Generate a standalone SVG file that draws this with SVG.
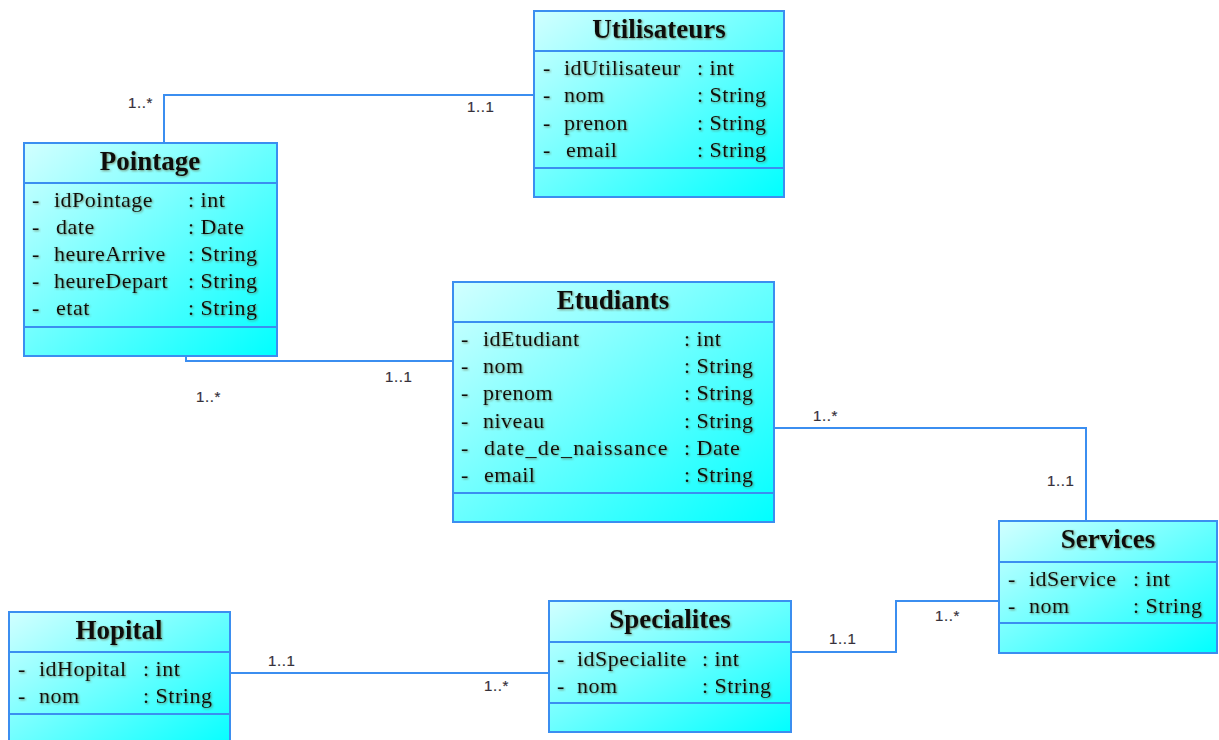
<svg xmlns="http://www.w3.org/2000/svg" width="1219" height="740" viewBox="0 0 1219 740">
  <defs>
    <linearGradient id="classFill" x1="0" y1="0" x2="1" y2="1">
      <stop offset="0" stop-color="#d2ffff"/>
      <stop offset="1" stop-color="#00ffff"/>
    </linearGradient>
    <filter id="soft" x="-5%" y="-20%" width="110%" height="140%">
      <feDropShadow dx="1" dy="1" stdDeviation="0.8" flood-color="#5a5a30" flood-opacity="0.65"/>
    </filter>
    <style>
      .box { fill: url(#classFill); stroke: #3b8ef0; stroke-width: 2; }
      .sep { stroke: #3b8ef0; stroke-width: 2; }
      text.title { font-family: "Liberation Serif", "Times New Roman", serif; font-size: 27px; font-weight: bold; fill: #111; text-anchor: middle; filter: url(#soft); }
      text.attr { font-family: "Liberation Serif", "Times New Roman", serif; font-size: 22px; fill: #111; letter-spacing: 0.5px; filter: url(#soft); }
      .link { fill: none; stroke: #3b8ef0; stroke-width: 2; }
      text.mult { font-family: "Liberation Sans", Arial, sans-serif; font-size: 15px; fill: #35303a; stroke: #35303a; stroke-width: 0.2; letter-spacing: 0.6px; }
    </style>
  </defs>

  <rect width="1219" height="740" fill="#ffffff"/>

  <!-- associations -->
  <g id="connectors">
    <polyline class="link" points="164,143 164,95 534,95"/>
    <polyline class="link" points="186,356 186,361 453,361"/>
    <polyline class="link" points="774,428 1086,428 1086,521"/>
    <polyline class="link" points="230,673 549,673"/>
    <polyline class="link" points="791,652 896,652 896,601 999,601"/>
    <text class="mult" x="128" y="108">1..*</text>
    <text class="mult" x="467" y="112">1..1</text>
    <text class="mult" x="385" y="382">1..1</text>
    <text class="mult" x="196" y="402">1..*</text>
    <text class="mult" x="813" y="421">1..*</text>
    <text class="mult" x="1047" y="486">1..1</text>
    <text class="mult" x="268" y="666">1..1</text>
    <text class="mult" x="484" y="691">1..*</text>
    <text class="mult" x="829" y="644">1..1</text>
    <text class="mult" x="935" y="621">1..*</text>
  </g>

  <!-- Utilisateurs -->
  <g id="utilisateurs">
    <rect class="box" x="534" y="11" width="250" height="186"/>
    <line class="sep" x1="534" y1="51" x2="784" y2="51"/>
    <line class="sep" x1="534" y1="168" x2="784" y2="168"/>
    <text class="title" x="659" y="38">Utilisateurs</text>
    <text class="attr" x="543" y="75">-</text><text class="attr" x="564" y="75">idUtilisateur</text><text class="attr" x="697" y="75">: int</text>
    <text class="attr" x="543" y="102">-</text><text class="attr" x="564" y="102">nom</text><text class="attr" x="697" y="102">: String</text>
    <text class="attr" x="543" y="129.5">-</text><text class="attr" x="564" y="129.5">prenon</text><text class="attr" x="697" y="129.5">: String</text>
    <text class="attr" x="543" y="157">-</text><text class="attr" x="566" y="157">email</text><text class="attr" x="697" y="157">: String</text>
  </g>

  <!-- Pointage -->
  <g id="pointage">
    <rect class="box" x="24" y="143" width="253" height="213"/>
    <line class="sep" x1="24" y1="183" x2="277" y2="183"/>
    <line class="sep" x1="24" y1="327" x2="277" y2="327"/>
    <text class="title" x="150" y="170">Pointage</text>
    <text class="attr" x="32" y="207">-</text><text class="attr" x="54" y="207">idPointage</text><text class="attr" x="188" y="207">: int</text>
    <text class="attr" x="32" y="234">-</text><text class="attr" x="56" y="234">date</text><text class="attr" x="188" y="234">: Date</text>
    <text class="attr" x="32" y="261">-</text><text class="attr" x="54" y="261">heureArrive</text><text class="attr" x="188" y="261">: String</text>
    <text class="attr" x="32" y="288">-</text><text class="attr" x="54" y="288">heureDepart</text><text class="attr" x="188" y="288">: String</text>
    <text class="attr" x="32" y="315">-</text><text class="attr" x="56" y="315">etat</text><text class="attr" x="188" y="315">: String</text>
  </g>

  <!-- Etudiants -->
  <g id="etudiants">
    <rect class="box" x="453" y="282" width="321" height="240"/>
    <line class="sep" x1="453" y1="322" x2="774" y2="322"/>
    <line class="sep" x1="453" y1="493" x2="774" y2="493"/>
    <text class="title" x="613" y="309">Etudiants</text>
    <text class="attr" x="461" y="346">-</text><text class="attr" x="483" y="346">idEtudiant</text><text class="attr" x="684" y="346">: int</text>
    <text class="attr" x="461" y="373">-</text><text class="attr" x="483" y="373">nom</text><text class="attr" x="684" y="373">: String</text>
    <text class="attr" x="461" y="400">-</text><text class="attr" x="483" y="400">prenom</text><text class="attr" x="684" y="400">: String</text>
    <text class="attr" x="461" y="427.5">-</text><text class="attr" x="483" y="427.5">niveau</text><text class="attr" x="684" y="427.5">: String</text>
    <text class="attr" x="461" y="455">-</text><text class="attr" x="484" y="455" textLength="184" lengthAdjust="spacing">date_de_naissance</text><text class="attr" x="684" y="455">: Date</text>
    <text class="attr" x="461" y="482">-</text><text class="attr" x="484" y="482">email</text><text class="attr" x="684" y="482">: String</text>
  </g>

  <!-- Services -->
  <g id="services">
    <rect class="box" x="999" y="521" width="218" height="132"/>
    <line class="sep" x1="999" y1="562" x2="1217" y2="562"/>
    <line class="sep" x1="999" y1="623" x2="1217" y2="623"/>
    <text class="title" x="1108" y="548">Services</text>
    <text class="attr" x="1008" y="586">-</text><text class="attr" x="1029" y="586">idService</text><text class="attr" x="1133" y="586">: int</text>
    <text class="attr" x="1008" y="613">-</text><text class="attr" x="1029" y="613">nom</text><text class="attr" x="1133" y="613">: String</text>
  </g>

  <!-- Hopital -->
  <g id="hopital">
    <rect class="box" x="9" y="612" width="221" height="140"/>
    <line class="sep" x1="9" y1="652" x2="230" y2="652"/>
    <line class="sep" x1="9" y1="714" x2="230" y2="714"/>
    <text class="title" x="119" y="639">Hopital</text>
    <text class="attr" x="18" y="676">-</text><text class="attr" x="39" y="676">idHopital</text><text class="attr" x="143" y="676">: int</text>
    <text class="attr" x="18" y="703">-</text><text class="attr" x="39" y="703">nom</text><text class="attr" x="143" y="703">: String</text>
  </g>

  <!-- Specialites -->
  <g id="specialites">
    <rect class="box" x="549" y="601" width="242" height="131"/>
    <line class="sep" x1="549" y1="642" x2="791" y2="642"/>
    <line class="sep" x1="549" y1="703" x2="791" y2="703"/>
    <text class="title" x="670" y="628">Specialites</text>
    <text class="attr" x="557" y="666">-</text><text class="attr" x="577" y="666">idSpecialite</text><text class="attr" x="702" y="666">: int</text>
    <text class="attr" x="557" y="693">-</text><text class="attr" x="577" y="693">nom</text><text class="attr" x="702" y="693">: String</text>
  </g>
</svg>
